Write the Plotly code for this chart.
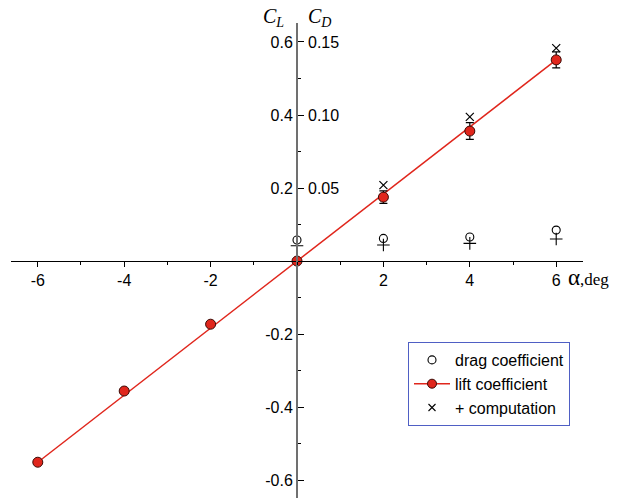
import plotly.graph_objects as go

# ---- data ----
alpha = [-6, -4, -2, 0, 2, 4, 6]
lift_measured = [-0.551, -0.356, -0.173, 0.0, 0.175, 0.356, 0.551]
lift_err = [None, None, None, None, 0.017, 0.023, 0.022]
fit_alpha = [-6, 6]
lift_fit = [-0.551, 0.551]

comp_alpha = [2, 4, 6]
lift_computed = [0.208, 0.395, 0.583]

drag_alpha = [0, 2, 4, 6]
drag_measured = [0.0144, 0.0155, 0.0165, 0.0212]
drag_computed = [0.0105, 0.0110, 0.0121, 0.0151]

cl_ticks = [-0.6, -0.4, -0.2, 0.2, 0.4, 0.6]
cl_ticktext = ["-0.6", "-0.4", "-0.2", "0.2", "0.4", "0.6"]
cd_ticks = [0.05, 0.10, 0.15]
cd_ticktext = ["0.05", "0.10", "0.15"]
x_ticks = [-6, -4, -2, 2, 4, 6]
x_ticktext = ["-6", "-4", "-2", "2", "4", "6"]

Y_RANGE = [-0.649, 0.652]
X_RANGE = [-6.62, 6.62]
CD_SCALE = 4.0

RED = "#e0261c"
fig = go.Figure()

# fitted lift line
fig.add_trace(go.Scatter(x=fit_alpha, y=lift_fit, mode="lines",
                         line=dict(color=RED, width=1.5), showlegend=False,
                         hoverinfo="skip"))
# drag measured
fig.add_trace(go.Scatter(x=drag_alpha, y=drag_measured, yaxis="y2", mode="markers",
                         marker=dict(symbol="circle-open", size=8, color="black",
                                     line=dict(width=1.1, color="black")),
                         name="drag coefficient", legendgroup="a"))
# drag computed
fig.add_trace(go.Scatter(x=drag_alpha, y=drag_computed, yaxis="y2", mode="markers",
                         marker=dict(symbol="cross-thin-open", size=9, color="black",
                                     line=dict(width=1.1, color="black")),
                         showlegend=False))
# lift computed
fig.add_trace(go.Scatter(x=comp_alpha, y=lift_computed, mode="markers",
                         marker=dict(symbol="x-thin-open", size=8, color="black",
                                     line=dict(width=1.2, color="black")),
                         showlegend=False))
# lift measured
fig.add_trace(go.Scatter(x=alpha, y=lift_measured, mode="markers",
                         marker=dict(symbol="circle", size=10, color=RED,
                                     line=dict(width=1, color="#3a0a05")),
                         error_y=dict(type="data", array=lift_err, symmetric=True,
                                      color="black", thickness=1.2, width=4),
                         showlegend=False))
# legend-only entries
fig.add_trace(go.Scatter(x=[None], y=[None], mode="lines+markers",
                         line=dict(color=RED, width=1.5),
                         marker=dict(symbol="circle", size=9, color=RED,
                                     line=dict(width=1, color="#3a0a05")),
                         name="lift coefficient", legendgroup="b"))
fig.add_trace(go.Scatter(x=[None], y=[None], mode="markers",
                         marker=dict(symbol="x-thin-open", size=7, color="black",
                                     line=dict(width=1.1, color="black")),
                         name="+ computation", legendgroup="c"))

tickfont = dict(family="Liberation Sans, Arial, sans-serif", size=16, color="black")

fig.update_layout(
    width=623, height=498,
    margin=dict(l=11, r=40, t=23, b=0),
    paper_bgcolor="white", plot_bgcolor="white",
    showlegend=True,
    legend=dict(x=(408 - 11) / 572, y=(498 - 342) / 475, xanchor="left", yanchor="top",
                bgcolor="white", bordercolor="#4f5fc4", borderwidth=1,
                font=dict(family="Liberation Sans, Arial, sans-serif", size=16, color="black"),
                tracegroupgap=8, traceorder="normal", itemwidth=36),
    xaxis=dict(range=X_RANGE, anchor="free", position=237 / 475,
               tickvals=x_ticks, ticktext=x_ticktext, tickfont=tickfont,
               ticks="outside", ticklen=5, tickcolor="black", tickwidth=1,
               minor=dict(dtick=1, ticks="outside", ticklen=3, tickcolor="black"),
               showline=True, linecolor="black", linewidth=1.2,
               showgrid=False, zeroline=False),
    yaxis=dict(range=Y_RANGE, anchor="free", position=0.5, side="left",
               tickvals=cl_ticks, ticktext=cl_ticktext, tickfont=tickfont,
               ticks="inside", ticklen=6, tickcolor="black", tickwidth=1,
               minor=dict(dtick=0.1, ticks="inside", ticklen=3, tickcolor="black"),
               showline=True, linecolor="#707070", linewidth=2,
               showgrid=False, zeroline=False),
    yaxis2=dict(range=[Y_RANGE[0] / CD_SCALE, Y_RANGE[1] / CD_SCALE], overlaying="y",
                anchor="free", position=0.5, side="right",
                tickvals=cd_ticks, ticktext=cd_ticktext, tickfont=tickfont,
                ticks="", ticklabelstandoff=10,
                showline=False, showgrid=False, zeroline=False),
)

serif = "Liberation Serif, Times New Roman, serif"
fig.add_annotation(xref="paper", yref="paper", x=(273 - 11) / 572, y=(498 - 18) / 475,
                   text="<i>C<sub>L</sub></i>", showarrow=False,
                   font=dict(family=serif, size=20, color="black"), yanchor="middle")
fig.add_annotation(xref="paper", yref="paper", x=(319 - 11) / 572, y=(498 - 18) / 475,
                   text="<i>C<sub>D</sub></i>", showarrow=False,
                   font=dict(family=serif, size=20, color="black"), yanchor="middle")
fig.add_annotation(xref="x", yref="y", x=6.22, y=0, yshift=-16, xanchor="left",
                   text="<span style='font-size:23px'>α</span>,deg", showarrow=False,
                   font=dict(family=serif, size=17, color="black"))

fig.write_html("out.html")
